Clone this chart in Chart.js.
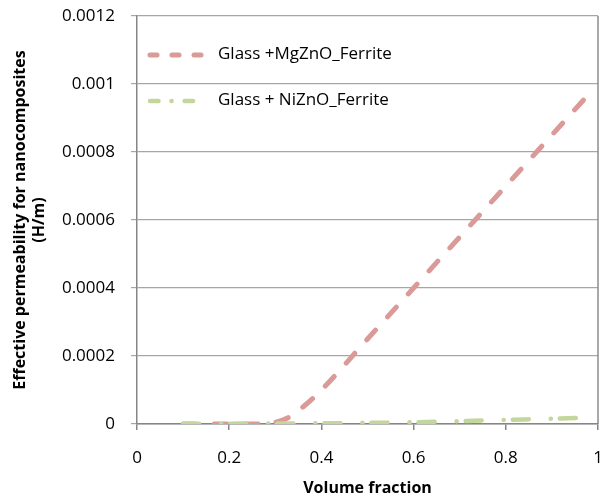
<!DOCTYPE html>
<html>
<head>
<meta charset="utf-8">
<script src="https://cdn.jsdelivr.net/npm/chart.js@4.4.0/dist/chart.umd.min.js"></script>
<style>
    html, body { margin: 0; padding: 0; background: #fff; }
    #wrap { width: 607px; height: 498px; }
</style>
</head>
<body>
<div id="wrap"><canvas id="permChart"></canvas></div>
<script>
// chart data
const volumeFraction = [0.1, 0.2, 0.25, 0.3, 0.33, 0.36, 0.4, 0.5, 0.6, 0.7, 0.8, 0.9, 0.98]
const mgZnO = [0, 0, 0, 0.000005, 0.00002, 0.00005, 0.0001, 0.00025, 0.0004, 0.00055, 0.0007, 0.00085, 0.00097]
const niZnO = [0, 0.000001, 0.0000012, 0.0000015, 0.0000017, 0.0000019, 0.000002, 0.0000035, 0.000005, 0.0000085, 0.000012, 0.0000155, 0.0000185]
const xTicks = [0, 0.2, 0.4, 0.6, 0.8, 1]
const yTicks = [0, 0.0002, 0.0004, 0.0006, 0.0008, 0.001, 0.0012]
const seriesNames = ['Glass +MgZnO_Ferrite', 'Glass + NiZnO_Ferrite']

function toPoints(ys) {
    return volumeFraction.map((x, i) => ({ x: x, y: ys[i] }))
}

const font = "'Open Sans', 'Noto Sans', sans-serif"

// legend drawn inside the plot area, excel style
const insideLegend = {
    id: 'insideLegend',
    afterDatasetsDraw(chart) {
        const ctx = chart.ctx
        const rows = [55, 101]
        chart.data.datasets.forEach((ds, i) => {
            ctx.save()
            ctx.strokeStyle = ds.borderColor
            ctx.lineWidth = ds.borderWidth
            ctx.lineCap = 'round'
            ctx.setLineDash(ds.legendDash)
            ctx.beginPath()
            ctx.moveTo(150, rows[i])
            ctx.lineTo(205, rows[i])
            ctx.stroke()
            ctx.restore()
            ctx.save()
            ctx.fillStyle = '#000'
            ctx.font = "17px " + font
            ctx.textBaseline = 'middle'
            ctx.fillText(ds.label, 218, rows[i] - 1)
            ctx.restore()
        })
    }
}

// right border of the plot area
const plotBorder = {
    id: 'plotBorder',
    beforeDatasetsDraw(chart) {
        const a = chart.chartArea
        const ctx = chart.ctx
        ctx.save()
        ctx.strokeStyle = '#8c8c8c'
        ctx.lineWidth = 1.5
        ctx.beginPath()
        ctx.moveTo(a.right, a.top)
        ctx.lineTo(a.right, a.bottom)
        ctx.stroke()
        ctx.restore()
    }
}

const permChart = new Chart(document.getElementById('permChart'), {
    type: 'scatter',
    data: {
        datasets: [
            {
                label: seriesNames[0],
                data: toPoints(mgZnO),
                showLine: true,
                borderColor: '#d99a98',
                borderWidth: 5,
                borderCapStyle: 'round',
                borderDash: [13, 18],
                legendDash: [7, 15],
                pointRadius: 0,
                cubicInterpolationMode: 'monotone',
                order: 1
            },
            {
                label: seriesNames[1],
                data: toPoints(niZnO),
                showLine: true,
                borderColor: '#c3d69b',
                borderWidth: 4.5,
                borderCapStyle: 'round',
                borderDash: [16, 22, 0.1, 9],
                legendDash: [8.5, 13, 0.1, 13],
                pointRadius: 0,
                cubicInterpolationMode: 'monotone',
                order: 0
            }
        ]
    },
    options: {
        responsive: true,
        maintainAspectRatio: false,
        animation: false,
        layout: { padding: { top: 16, right: 9, left: 0, bottom: 0 } },
        plugins: {
            legend: { display: false },
            tooltip: { enabled: false }
        },
        scales: {
            x: {
                type: 'linear',
                min: 0,
                max: 1,
                afterBuildTicks: (scale) => { scale.ticks = xTicks.map(v => ({ value: v })) },
                afterFit: (scale) => {
                    scale.height = 74
                    scale.paddingLeft = 0
                    scale.paddingRight = 0
                },
                border: { color: '#868686', width: 1.5 },
                grid: { drawOnChartArea: false, tickLength: 6, color: '#868686', lineWidth: 1.5 },
                ticks: {
                    padding: 18,
                    color: '#000',
                    font: { family: font, size: 17 },
                    callback: (v) => String(v)
                },
                title: {
                    display: true,
                    text: 'Volume fraction',
                    color: '#000',
                    font: { family: font, size: 16, weight: 'bold' },
                    padding: { top: 2, bottom: 0 }
                }
            },
            y: {
                min: 0,
                max: 0.0012,
                afterBuildTicks: (scale) => { scale.ticks = yTicks.map(v => ({ value: v })) },
                afterFit: (scale) => {
                    scale.width = 137
                    scale.paddingTop = 0
                    scale.paddingBottom = 0
                },
                border: { color: '#868686', width: 1.5 },
                grid: { tickLength: 6, color: '#a6a6a6', lineWidth: 1.2 },
                ticks: {
                    padding: 16,
                    color: '#000',
                    font: { family: font, size: 17 },
                    callback: (v) => String(Number(v.toPrecision(6)))
                },
                title: {
                    display: true,
                    text: ['Effective permeability for nanocomposites', '(H/m)'],
                    color: '#000',
                    font: { family: font, size: 16, weight: 'bold' },
                    padding: { top: 11, bottom: 0 }
                }
            }
        }
    },
    plugins: [insideLegend, plotBorder]
})
</script>
</body>
</html>
